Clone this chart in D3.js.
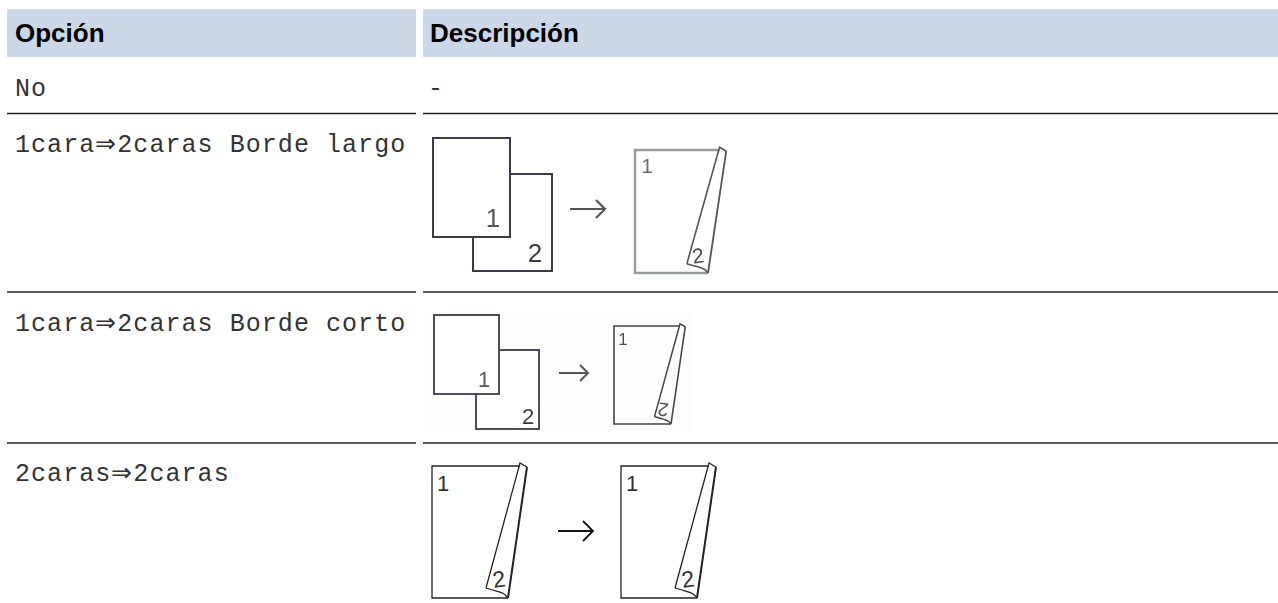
<!DOCTYPE html>
<html>
<head>
<meta charset="utf-8">
<script src="https://cdn.jsdelivr.net/npm/d3@7/dist/d3.min.js"></script>
<style>
  html, body { margin: 0; padding: 0; background: #fff; overflow: hidden; }
  text { white-space: pre; }
</style>
</head>
<body>
<div id="chart"></div>
<script>
var columns = ["Opción", "Descripción"];
var options = ["No", "1cara⇒2caras Borde largo", "1cara⇒2caras Borde corto", "2caras⇒2caras"];
var descriptions = ["-", "", "", ""];

var svgWidth = 1278;
var svgHeight = 603;

var svg = d3.select("#chart")
    .append("svg")
    .attr("width", svgWidth)
    .attr("height", svgHeight)
    .style("display", "block");

svg.append("defs").append("filter")
    .attr("id", "soft")
    .append("feGaussianBlur")
    .attr("stdDeviation", 0.45);

// column and row bands
var colLeft = [7, 423];
var colRight = [416, 1278];
var colText = [15, 428];
var ruleY = [113.5, 292, 443];
var baseY = [96, 152, 331, 481];
var ink = "#3a3a4e";

// header
svg.selectAll(".head")
    .data(columns)
    .enter()
    .append("rect")
    .attr("x", (d, i) => colLeft[i])
    .attr("y", 9)
    .attr("width", (d, i) => colRight[i] - colLeft[i])
    .attr("height", 48)
    .attr("fill", "#ccd7e8");

svg.selectAll(".headText")
    .data(columns)
    .enter()
    .append("text")
    .attr("x", (d, i) => i == 0 ? 15 : 430)
    .attr("y", 41.5)
    .attr("font-family", "Liberation Sans")
    .attr("font-weight", "bold")
    .attr("font-size", "26px")
    .attr("fill", "#000")
    .text(d => d);

// row rules
ruleY.forEach(function (y) {
    colLeft.forEach(function (x, i) {
        svg.append("line")
            .attr("x1", x).attr("x2", colRight[i])
            .attr("y1", y).attr("y2", y)
            .attr("stroke", "#222")
            .attr("stroke-width", 1.4);
    });
});

function cellText(list, col) {
    svg.selectAll(".cell" + col)
        .data(list)
        .enter()
        .append("text")
        .attr("x", colText[col])
        .attr("y", (d, i) => baseY[i])
        .attr("font-family", "Liberation Mono")
        .attr("font-size", "25px")
        .attr("letter-spacing", "1.05px")
        .attr("fill", "#333")
        .text(d => d);
}
cellText(options, 0);
cellText(descriptions, 1);

// little diagrams, all drawn in their own pixel box
function sheet(g, x, y, w, h, color, sw) {
    g.append("rect")
        .attr("x", x).attr("y", y).attr("width", w).attr("height", h)
        .attr("fill", "#fff")
        .attr("stroke", color)
        .attr("stroke-width", sw);
}

function digit(g, x, y, size, label, color, angle) {
    g.append("text")
        .attr("transform", `translate(${x}, ${y}) rotate(${angle || 0})`)
        .attr("font-family", "Liberation Sans")
        .attr("font-size", size + "px")
        .attr("fill", color)
        .attr("text-anchor", "middle")
        .text(label);
}

function arrow(g, x1, x2, y, head, color, sw) {
    var line = d3.line();
    g.append("path")
        .attr("d", line([[x1, y], [x2, y]]))
        .attr("stroke", color).attr("stroke-width", sw).attr("fill", "none");
    g.append("path")
        .attr("d", line([[x2 - head, y - head], [x2, y], [x2 - head, y + head]]))
        .attr("stroke", color).attr("stroke-width", sw).attr("fill", "none");
}

// folded page: left/top/bottom edges plus the curled corner flap.
// proportions come from the large page in the last row (76 x 132)
function folded(g, x, y, w, h, pageColor, pageWidth, flapColor, flapWidth, rightWidth) {
    var sx = d3.scaleLinear().domain([0, 76]).range([x, x + w]);
    var sy = d3.scaleLinear().domain([0, 132]).range([y, y + h]);
    var line = d3.line().x(d => sx(d[0])).y(d => sy(d[1]));
    var curl = d3.line().x(d => sx(d[0])).y(d => sy(d[1])).curve(d3.curveBasis);

    g.append("path")
        .attr("d", line([[88, 0], [0, 0], [0, 132], [76, 132]]))
        .attr("fill", "none").attr("stroke", pageColor).attr("stroke-width", pageWidth);
    g.append("path")
        .attr("d", line([[95, 1], [76, 132]]))
        .attr("fill", "none").attr("stroke", flapColor).attr("stroke-width", rightWidth);
    g.append("path")
        .attr("d", line([[95, 1], [88, -3], [54, 122]]))
        .attr("fill", "none").attr("stroke", flapColor).attr("stroke-width", flapWidth);
    g.append("path")
        .attr("d", curl([[54, 122], [64, 125], [72, 127], [76, 132]]))
        .attr("fill", "none").attr("stroke", flapColor).attr("stroke-width", flapWidth);
}

var soft = svg.append("g").attr("filter", "url(#soft)");
var g = svg.append("g");

// row 2
sheet(soft, 473, 174, 79, 97, ink, 2);
sheet(soft, 433, 138, 77, 99, ink, 2);
digit(soft, 493, 227, 26, "1", "#56565f");
digit(soft, 535, 262, 26, "2", "#3a3a4e");
arrow(soft, 570, 605, 209, 9, "#555", 2.2);
folded(soft, 635, 150, 73, 123, "#979a9a", 2.4, "#55555f", 1.6, 1.8);
digit(soft, 647, 173, 21, "1", "#6a6a70");
digit(soft, 699, 263, 21, "2", "#4a4a5a", -8);

// row 3 sits on a very faint tint
soft.append("rect").attr("x", 430).attr("y", 311).attr("width", 263).attr("height", 121).attr("fill", "#fcfdfc");
sheet(soft, 476, 350, 63, 79, ink, 1.8);
sheet(soft, 434, 315, 65, 79, ink, 1.8);
digit(soft, 484, 387, 22, "1", "#56565f");
digit(soft, 528, 424, 22, "2", "#3a3a4e");
arrow(soft, 559, 588, 373, 8, "#555", 2);
folded(soft, 614, 326, 57, 98, "#444", 1.6, "#444", 1.5, 1.6);
digit(soft, 623, 345, 17, "1", "#5a4a5a");
digit(soft, 664, 403, 19, "2", "#4a4a5a", 188);

// row 4
folded(g, 432, 466, 76, 132, "#222", 1.3, "#222", 1.3, 2);
digit(g, 443, 491, 22, "1", "#333");
digit(g, 500, 587, 23, "2", "#333", -8);
arrow(g, 558, 593, 531, 10, "#111", 1.8);
folded(g, 621, 466, 76, 132, "#222", 1.3, "#222", 1.3, 2);
digit(g, 632, 491, 22, "1", "#333");
digit(g, 689, 587, 23, "2", "#333", -8);
</script>
</body>
</html>
